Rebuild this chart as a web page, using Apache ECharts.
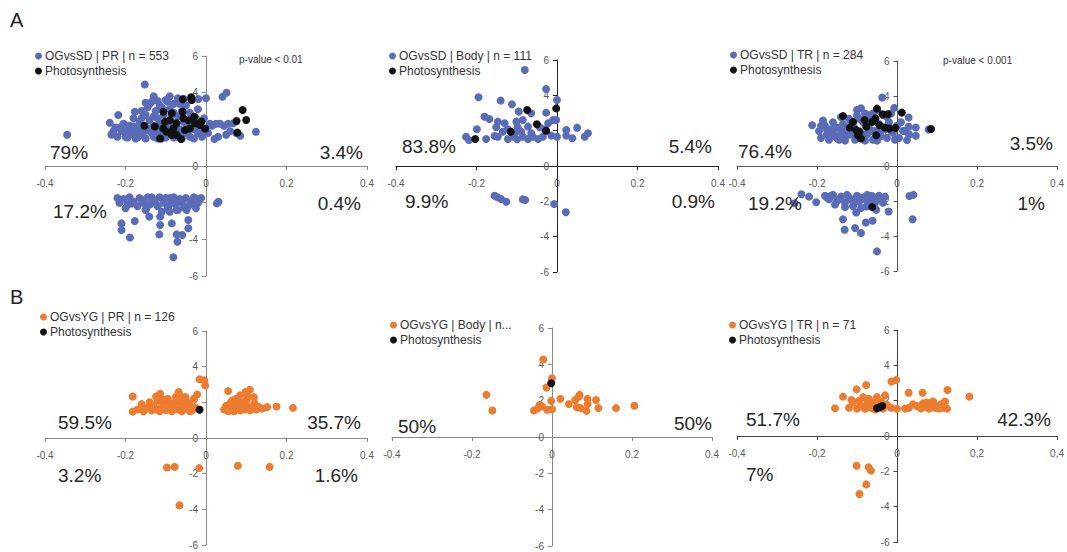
<!DOCTYPE html>
<html><head><meta charset="utf-8">
<script src="https://cdn.jsdelivr.net/npm/echarts@6/dist/echarts.min.js"></script>
<style>html,body{margin:0;padding:0;background:#fff}#c{width:1067px;height:552px}#d{position:absolute;left:420px;top:282px;font:9px monospace;color:#c00;white-space:pre}</style>
</head><body><div id="c"></div><div id="d"></div>
<script>
// ---------- DATA ----------
const panelNames = ['OGvsSD | PR | n = 553','OGvsSD | Body | n = 111','OGvsSD | TR | n = 284','OGvsYG | PR | n = 126','OGvsYG | Body | n...','OGvsYG | TR | n = 71'];
const photoName = 'Photosynthesis';
const yTickLabels = ['-6','-4','-2','0','2','4','6'];
const xTickLabelsDot = ['-0.4','-0.2','0','0.2','0.4'];
const xTickLabelsComma = ['-0,4','-0,2','0','0,2','0,4'];
const panelLetters = ['A','B'];
const pValues = ['p-value < 0.01','','p-value < 0.001','','',''];
// quadrant percentages per panel: [upper-left, upper-right, lower-left, lower-right]
const quadA1 = ['79%','3.4%','17.2%','0.4%'];
const quadA2 = ['83.8%','5.4%','9.9%','0.9%'];
const quadA3 = ['76.4%','3.5%','19.2%','1%'];
const quadB1 = ['59.5%','35.7%','3.2%','1.6%'];
const quadB2 = ['50%','50%','',''];
const quadB3 = ['51.7%','42.3%','7%',''];

const a1Main = [[-0.345,1.7],[-0.152,4.45],[0.051,4.0],[0.041,3.78],[0.0,3.7],[-0.019,3.65],[0.124,1.87],[0.085,1.65],[0.021,1.47],[0.068,2.33],[-0.177,2.96],[-0.218,2.78],[-0.239,2.36],[-0.235,1.7],
[-0.225,2.1],[-0.21,1.9],[-0.2,1.6],[-0.19,2.2],[-0.185,1.75],[-0.175,1.5],[-0.17,2.0],[-0.165,2.4],[-0.16,1.7],[-0.155,2.2],[-0.15,1.5],[-0.15,2.8],[-0.145,3.2],[-0.14,1.9],[-0.14,2.5],[-0.135,3.5],[-0.13,1.6],[-0.13,2.2],[-0.125,3.0],[-0.12,1.8],[-0.12,2.6],[-0.115,3.3],[-0.11,2.0],[-0.11,1.5],[-0.105,2.8],[-0.1,2.3],[-0.1,3.6],[-0.095,1.7],[-0.09,3.1],[-0.09,2.5],[-0.085,1.9],[-0.08,3.4],[-0.08,2.2],[-0.075,1.6],[-0.07,2.7],[-0.07,3.7],[-0.065,2.0],[-0.06,1.5],[-0.06,3.0],[-0.055,2.4],[-0.05,1.8],[-0.05,3.3],[-0.045,2.2],[-0.04,1.6],[-0.04,2.9],[-0.035,3.6],[-0.03,2.0],[-0.03,1.5],[-0.025,2.6],[-0.02,1.8],[-0.015,2.3],[-0.01,1.6],[-0.005,2.0],[0.005,1.8],[0.015,2.2],[0.025,2.3],[0.035,2.3],[0.045,2.2],[0.055,2.3],[0.06,1.9],[0.075,1.8],[0.05,1.7],[0.03,1.6],[-0.195,1.55],[-0.205,2.3],[-0.18,2.6],[-0.16,3.0],[-0.14,3.4],[-0.12,3.55],[-0.095,3.5],[-0.055,3.65],[-0.1,1.55],[-0.12,1.5],[-0.08,1.55],[-0.17,1.55],[-0.22,1.6],[-0.08,2.9],[-0.11,3.2],[-0.065,3.4],
[-0.2,2.0],[-0.19,1.85],[-0.18,2.15],[-0.175,1.8],[-0.165,2.0],[-0.155,1.85],[-0.145,2.05],[-0.135,1.8],[-0.125,2.0],[-0.115,2.3],[-0.105,1.7],[-0.095,2.0],[-0.085,2.4],[-0.065,1.7],[-0.045,1.9],[-0.035,2.3],[-0.015,1.9],[-0.2,1.75],[-0.21,2.15],[-0.23,1.9],[-0.16,2.6],[-0.13,2.7],[-0.15,3.45],[-0.13,3.8],[-0.09,3.8],[-0.02,3.1],[0.01,2.3],[-0.005,2.6],
[0.027,-2.04],[0.031,-1.95],[-0.21,-3.13],[-0.21,-3.49],[-0.189,-3.9],[-0.177,-3.0],[-0.148,-2.3],[-0.141,-2.76],[-0.114,-2.76],[-0.114,-3.22],[-0.116,-3.73],[-0.085,-3.13],[-0.073,-3.73],[-0.071,-4.13],[-0.059,-3.76],[-0.081,-4.98],[-0.044,-2.95],[-0.044,-3.4],[-0.048,-2.4],[-0.073,-2.4],[-0.091,-2.13],
[-0.22,-1.75],[-0.215,-2.0],[-0.205,-1.8],[-0.195,-2.1],[-0.19,-1.7],[-0.18,-1.95],[-0.17,-2.2],[-0.165,-1.75],[-0.155,-2.0],[-0.145,-1.7],[-0.14,-2.1],[-0.13,-1.85],[-0.12,-2.2],[-0.115,-1.7],[-0.105,-2.0],[-0.1,-1.75],[-0.095,-2.3],[-0.085,-1.9],[-0.08,-1.7],[-0.075,-2.1],[-0.07,-2.4],[-0.065,-1.8],[-0.06,-2.0],[-0.05,-1.75],[-0.045,-2.2],[-0.035,-1.9],[-0.03,-1.7],[-0.02,-2.0],[-0.012,-1.75],[-0.025,-2.3],[-0.09,-2.5],[-0.11,-2.5],[-0.15,-2.4],[-0.2,-2.3],
[-0.21,-1.85],[-0.185,-2.05],[-0.16,-1.85],[-0.135,-1.7],[-0.125,-2.0],[-0.09,-1.75],[-0.07,-1.85],[-0.055,-2.25],[-0.04,-2.1],[-0.025,-1.8]];
const a1Photo = [[-0.153,2.2],[-0.058,3.64],[-0.037,3.75],[-0.036,3.6],[-0.106,2.96],[-0.085,2.87],[-0.058,2.96],[-0.056,2.6],[-0.029,2.69],[-0.114,1.5],[-0.085,1.69],[-0.062,1.47],[-0.106,2.05],[-0.098,1.87],[-0.081,2.05],[-0.073,2.33],[-0.052,1.96],[-0.04,2.05],[-0.027,2.33],[-0.015,2.24],[-0.002,2.05],[-0.011,2.42],[-0.044,2.5],[-0.09,2.5],[-0.102,2.42],[0.091,3.05],[0.1,2.51],[0.076,2.45],[0.078,1.82],[-0.127,2.15],[-0.073,1.69]];

const a2Main = [[-0.08,5.43],[-0.027,4.36],[0.0,3.74],[-0.195,3.89],[-0.14,3.7],[-0.112,3.49],[-0.095,3.08],[-0.064,2.98],[-0.027,3.02],[-0.18,2.79],[-0.168,2.66],[-0.147,2.51],[-0.13,2.42],[-0.101,2.51],[-0.085,2.6],[-0.01,2.6],[-0.002,2.6],[-0.022,2.42],[-0.199,2.08],[-0.151,2.19],[-0.122,2.08],[-0.098,2.19],[-0.072,2.23],[-0.043,2.19],[-0.031,2.08],[-0.226,1.66],[-0.219,1.47],[-0.176,1.53],[-0.155,1.7],[-0.147,1.66],[-0.122,1.53],[-0.11,1.66],[-0.099,1.51],[-0.085,1.66],[-0.072,1.53],[-0.06,1.66],[-0.047,1.53],[-0.035,1.66],[-0.014,1.72],[0.0,1.66],[0.023,1.72],[0.038,1.57],[0.05,2.17],[0.069,1.66],[0.077,1.85],[0.023,2.04],[-0.089,1.94],[-0.135,1.94],[-0.064,1.85],[-0.105,1.85],
[-0.155,-1.68],[-0.148,-1.77],[-0.139,-1.87],[-0.126,-2.02],[-0.085,-1.89],[-0.079,-1.92],[-0.007,-2.15],[0.022,-2.62]];
const a2Photo = [[-0.203,1.53],[-0.115,1.94],[-0.074,3.17],[-0.05,2.36],[-0.027,2.0],[-0.002,3.26]];

const a3Main = [[-0.212,2.33],[-0.037,3.91],[-0.007,3.32],[0.029,2.77],[0.025,1.48],[0.047,2.2],[0.047,1.73],[0.079,2.09],[0.029,2.24],
[-0.195,2.0],[-0.19,1.6],[-0.18,2.3],[-0.175,1.8],[-0.17,1.5],[-0.165,2.1],[-0.16,2.5],[-0.155,1.7],[-0.15,2.2],[-0.145,1.5],[-0.14,1.9],[-0.135,2.4],[-0.13,1.6],[-0.125,2.1],[-0.12,2.7],[-0.115,1.8],[-0.11,2.3],[-0.105,1.5],[-0.1,2.9],[-0.095,2.0],[-0.09,1.6],[-0.085,2.5],[-0.08,3.0],[-0.075,1.8],[-0.07,2.2],[-0.065,2.7],[-0.06,1.5],[-0.055,2.0],[-0.05,3.2],[-0.045,2.4],[-0.04,1.7],[-0.035,2.9],[-0.03,2.1],[-0.025,1.6],[-0.02,2.5],[-0.015,3.0],[-0.01,1.9],[0.0,2.3],[0.005,1.6],[0.015,2.0],[0.03,1.8],[-0.185,2.6],[-0.14,2.8],[-0.1,3.2],[-0.09,3.3],[-0.07,2.9],[-0.13,1.45],[-0.05,1.45],[-0.08,1.45],
[-0.19,2.3],[-0.175,2.05],[-0.16,1.9],[-0.15,1.6],[-0.14,2.2],[-0.125,1.75],[-0.115,2.5],[-0.105,2.1],[-0.095,2.7],[-0.085,1.8],[-0.075,2.4],[-0.065,2.0],[-0.06,3.0],[-0.045,1.9],[-0.035,2.2],[-0.025,2.8],[-0.015,2.0],[-0.005,1.5],[0.01,2.5],[0.02,2.0],
[-0.256,-2.13],[-0.239,-1.61],[-0.22,-1.75],[-0.202,-2.07],[-0.135,-3.04],[-0.131,-3.64],[-0.102,-2.66],[-0.105,-3.55],[-0.09,-3.83],[-0.078,-3.23],[-0.061,-3.13],[-0.05,-4.88],[-0.021,-2.6],[0.031,-1.71],[0.041,-1.65],[0.039,-3.04],[-0.077,-2.31],[-0.052,-2.5],
[-0.18,-1.7],[-0.17,-1.9],[-0.16,-1.65],[-0.15,-2.0],[-0.14,-1.75],[-0.13,-2.1],[-0.125,-1.65],[-0.115,-1.9],[-0.11,-2.3],[-0.1,-1.7],[-0.095,-2.05],[-0.085,-1.8],[-0.075,-1.65],[-0.07,-2.0],[-0.06,-1.75],[-0.055,-2.1],[-0.045,-1.7],[-0.04,-1.95],[-0.03,-1.75],[-0.09,-2.4],[-0.13,-2.35],[-0.155,-2.2],
[-0.175,-1.8],[-0.165,-1.7],[-0.145,-1.9],[-0.12,-1.8],[-0.105,-2.05],[-0.08,-1.9],[-0.065,-1.7],[-0.05,-1.85],[-0.035,-2.1]];
const a3Photo = [[-0.135,2.85],[-0.05,3.28],[-0.036,2.96],[-0.023,2.96],[0.012,3.05],[0.085,2.11],[-0.004,2.18],[-0.019,2.14],[-0.11,2.52],[-0.118,2.2],[-0.102,2.05],[-0.098,1.76],[-0.09,1.57],[-0.077,2.24],[-0.062,2.52],[-0.052,1.76],[-0.044,2.33],[-0.031,2.2],[-0.094,1.95],[-0.081,2.62],[-0.054,2.71],[-0.062,-2.35]];

const b1Main = [[-0.016,3.29],[-0.004,3.23],[-0.002,2.95],[-0.182,2.33],[-0.182,1.48],[-0.124,2.33],[-0.114,2.48],[-0.068,2.58],[-0.022,2.44],[-0.051,2.29],
[0.055,2.63],[0.098,2.58],[0.109,2.71],[0.065,2.1],[0.119,2.29],[0.152,1.73],[0.175,1.77],[0.216,1.69],[0.077,1.92],
[-0.17,1.6],[-0.16,1.9],[-0.155,1.5],[-0.15,1.7],[-0.14,2.0],[-0.135,1.55],[-0.13,1.8],[-0.125,1.6],[-0.12,2.1],[-0.115,1.5],[-0.11,1.75],[-0.105,1.95],[-0.1,1.55],[-0.095,2.2],[-0.09,1.7],[-0.085,1.5],[-0.08,1.9],[-0.075,2.3],[-0.07,1.6],[-0.065,2.0],[-0.06,1.5],[-0.055,1.8],[-0.05,2.1],[-0.045,1.6],[-0.04,1.9],[-0.035,1.55],[-0.03,2.2],[-0.025,1.7],[-0.065,2.4],[-0.09,2.0],[-0.11,2.2],[-0.145,1.65],[-0.08,1.65],[-0.04,1.5],
[0.045,1.6],[0.05,1.8],[0.055,1.5],[0.06,1.95],[0.065,1.65],[0.07,1.5],[0.075,2.2],[0.08,1.75],[0.085,1.55],[0.09,2.0],[0.095,1.6],[0.1,1.85],[0.105,2.3],[0.11,1.55],[0.115,1.7],[0.12,1.95],[0.125,1.6],[0.13,1.75],[0.14,1.65],[0.085,2.4],[0.1,2.1],[0.06,1.55],
[-0.097,-1.65],[-0.078,-1.62],[-0.017,-1.69],[0.079,-1.56],[0.158,-1.62],[-0.066,-3.78]];
const b1Photo = [[-0.016,1.58]];

const b2Main = [[-0.022,4.27],[0.0,3.23],[-0.014,2.72],[-0.164,2.32],[-0.149,1.46],[-0.045,1.46],[-0.035,1.59],[-0.025,1.68],[-0.012,1.5],[0.0,1.53],[-0.002,1.99],[0.021,2.1],[0.042,1.81],[0.058,2.04],[0.067,2.23],[0.069,2.32],[0.089,2.1],[0.089,1.81],[0.11,2.04],[0.062,1.64],[0.072,1.59],[0.086,1.44],[0.116,1.59],[0.16,1.59],[0.206,1.72],[-0.031,1.77]];
const b2Photo = [[-0.002,2.96]];

const b3Main = [[-0.155,1.57],[-0.135,2.23],[-0.101,2.64],[-0.077,2.89],[-0.014,3.08],[-0.002,3.17],[0.029,2.45],[0.064,2.45],[0.126,2.6],[0.181,2.23],[-0.114,2.04],
[-0.12,1.6],[-0.11,1.9],[-0.1,1.55],[-0.095,2.0],[-0.09,1.7],[-0.085,2.2],[-0.08,1.55],[-0.075,1.85],[-0.07,2.1],[-0.065,1.6],[-0.06,1.9],[-0.055,1.5],[-0.05,2.2],[-0.045,1.7],[-0.04,1.95],[-0.035,1.55],[-0.03,2.3],[-0.025,1.75],[-0.015,1.6],[0.0,1.55],
[0.02,1.55],[0.03,1.6],[0.04,1.8],[0.05,1.7],[0.06,1.55],[0.065,1.85],[0.07,1.65],[0.075,1.9],[0.08,1.55],[0.085,1.75],[0.09,1.95],[0.095,1.6],[0.1,1.7],[0.105,1.55],[0.11,1.8],[0.115,1.6],[0.12,1.95],[0.125,1.55],
[-0.101,-1.68],[-0.071,-1.77],[-0.065,-1.96],[-0.077,-2.74],[-0.094,-3.28]];
const b3Photo = [[-0.05,1.57],[-0.044,1.62],[-0.037,1.7]];

// ---------- LAYOUT / STYLE ----------
const BLUE = '#5a6cb8', ORANGE = '#ec7c30', BLACK = '#111';
const panels = [
  {main:a1Main, photo:a1Photo, color:BLUE, quad:quadA1, grid:{left:45,top:56,width:322,height:220}, axis:'#888', xl:xTickLabelsDot,
   legend:{left:35,top:50}, qpos:[[50,154],[363,154],[53,213],[361,205]], p:[281,60]},
  {main:a2Main, photo:a2Photo, color:BLUE, quad:quadA2, grid:{left:396,top:60,width:322,height:212}, axis:'#222', xl:xTickLabelsDot,
   legend:{left:389,top:50}, qpos:[[402,148],[712,148],[405,203],[715,203]], p:null},
  {main:a3Main, photo:a3Photo, color:BLUE, quad:quadA3, grid:{left:737,top:61,width:321,height:210}, axis:'#555', xl:xTickLabelsDot,
   legend:{left:730,top:49}, qpos:[[738,153],[1053,145],[748,205],[1045,205]], p:[985,61]},
  {main:b1Main, photo:b1Photo, color:ORANGE, quad:quadB1, grid:{left:45,top:331,width:322,height:214}, axis:'#888', xl:xTickLabelsDot,
   legend:{left:40,top:311}, qpos:[[58,424],[361,424],[58,477],[358,477]], p:null},
  {main:b2Main, photo:b2Photo, color:ORANGE, quad:quadB2, grid:{left:392,top:328,width:320,height:218}, axis:'#888', xl:xTickLabelsDot,
   legend:{left:390,top:319}, qpos:[[398,428],[712,425],[0,0],[0,0]], p:null},
  {main:b3Main, photo:b3Photo, color:ORANGE, quad:quadB3, grid:{left:737,top:330,width:321,height:212}, axis:'#444', xl:xTickLabelsComma,
   legend:{left:729,top:319}, qpos:[[746,421],[1051,421],[746,476],[0,0]], p:null}
];

const FONT = 'Liberation Sans, Arial, sans-serif';
const grids=[], xAxes=[], yAxes=[], series=[], legends=[], titles=[];
panels.forEach((p,i)=>{
  grids.push(Object.assign({containLabel:false, show:false}, p.grid));
  // axes cross at zero: symmetric ranges, so shift each axis into the middle of its grid
  xAxes.push({type:'value', gridIndex:i, min:-0.4, max:0.4, interval:0.2, position:'bottom',
    offset:-p.grid.height/2,
    axisLine:{show:true, onZero:false, lineStyle:{color:p.axis, width:1}},
    axisTick:{show:true, length:4, lineStyle:{color:p.axis, width:1}},
    splitLine:{show:false},
    axisLabel:{color:'#595959', fontSize:10, fontFamily:FONT, margin:12,
      formatter:(v)=>p.xl[xTickLabelsDot.indexOf(String(Math.round(v*10)/10))] ?? String(v)}});
  yAxes.push({type:'value', gridIndex:i, min:-6, max:6, interval:2, position:'left',
    offset:-p.grid.width/2,
    axisLine:{show:true, onZero:false, lineStyle:{color:p.axis, width:1}},
    axisTick:{show:true, length:4, lineStyle:{color:p.axis, width:1}},
    // zero line drawn again as the y-axis split line at 0 only
    splitLine:{show:true, lineStyle:{width:1, color:['rgba(0,0,0,0)','rgba(0,0,0,0)','rgba(0,0,0,0)',p.axis,'rgba(0,0,0,0)','rgba(0,0,0,0)','rgba(0,0,0,0)']}},
    axisLabel:{color:'#595959', fontSize:10, fontFamily:FONT, margin:8,
      formatter:(v)=>yTickLabels[yTickLabels.indexOf(String(v))] ?? String(v)}});
  series.push({type:'scatter', name:panelNames[i], xAxisIndex:i, yAxisIndex:i, data:p.main,
    symbolSize:8, itemStyle:{color:p.color, opacity:1}, z:3});
  series.push({type:'scatter', name:photoName, xAxisIndex:i, yAxisIndex:i, data:p.photo,
    symbolSize:8, itemStyle:{color:BLACK, opacity:1}, z:4});
  legends.push({orient:'vertical', left:p.legend.left, top:p.legend.top, padding:0, itemGap:3,
    icon:'circle', itemWidth:7, itemHeight:7, selectedMode:false,
    data:[panelNames[i], photoName],
    textStyle:{fontSize:12, color:'#333', fontFamily:FONT, padding:[0,0,0,-2]}});
  // quadrant percentages as title components (real text)
  p.quad.forEach((t,k)=>{
    if(!t) return;
    const pos = p.qpos[k];
    const t0 = {text:t, padding:0, top:pos[1]-11,
      textStyle:{fontSize:19, fontWeight:'normal', color:'#262626', fontFamily:FONT}};
    if(k%2===0) t0.left = pos[0]; else t0.right = 1067 - pos[0];
    titles.push(t0);
  });
  if(p.p){
    titles.push({text:pValues[i], padding:0, left:p.p[0]-42, top:p.p[1]-6,
      textStyle:{fontSize:10, fontWeight:'normal', color:'#333', fontFamily:FONT}});
  }
});
titles.push({text:panelLetters[0], padding:0, left:10, top:10, textStyle:{fontSize:20, fontWeight:'normal', color:'#222', fontFamily:FONT}});
titles.push({text:panelLetters[1], padding:0, left:10, top:287, textStyle:{fontSize:20, fontWeight:'normal', color:'#222', fontFamily:FONT}});

const chart = echarts.init(document.getElementById('c'), null, {renderer:'svg', width:1067, height:552});
try {
  chart.setOption({
    animation:false, title:titles,
    grid:grids, xAxis:xAxes, yAxis:yAxes, series:series, legend:legends
  });
  // only if no long horizontal stroke was produced, leave a small note
  const hz = [...document.querySelectorAll('svg path')].filter(el=>/^M[\d.]+ ([\d.]+)L[\d.]+ \1$/.test((el.getAttribute('d')||'').trim()));
  if(hz.length===0) document.getElementById('d').textContent='no horizontal paths';
} catch(e) { document.getElementById('d').textContent = String(e).slice(0,120); }
</script></body></html>
